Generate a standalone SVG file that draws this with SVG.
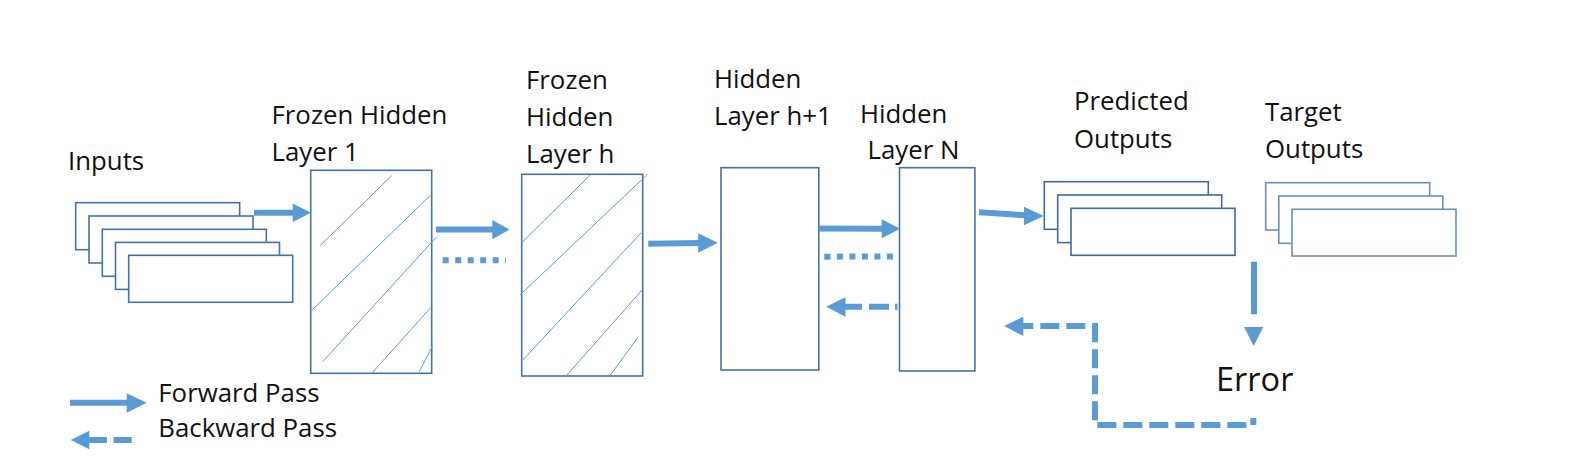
<svg xmlns="http://www.w3.org/2000/svg" width="1584" height="475" viewBox="0 0 1584 475">
<defs>
<style>
.t{font-family:"Open Sans","Liberation Sans",sans-serif;font-size:25.8px;fill:#111}
.box{fill:#fff;stroke:#4472A8;stroke-width:1.6}
.bt{fill:#fff;stroke:#6A8FBA;stroke-width:1.6}
.bp{fill:#fff;stroke:#3F6AA0;stroke-width:1.6}
.h{stroke:#5B9BD5;stroke-width:1;fill:none}
.f{stroke:#5B9BD5;stroke-width:6;fill:none}
.dot{stroke:#5B9BD5;stroke-width:6;fill:none;stroke-dasharray:6 6.5}
.dash{stroke:#5B9BD5;stroke-width:6;fill:none;stroke-dasharray:19 7}
.hd{fill:#5B9BD5}
</style>
</defs>
<rect width="1584" height="475" fill="#fff"/>

<g id="inputs">
<text class="t" x="68" y="170">Inputs</text>
<rect class="box" x="75.7" y="202.7" width="164" height="47"/>
<rect class="box" x="89" y="216" width="164" height="47"/>
<rect class="box" x="102.3" y="229.3" width="164" height="47"/>
<rect class="box" x="115.5" y="242.4" width="164" height="47"/>
<rect class="box" x="128.7" y="255.3" width="164" height="47"/>
</g>

<g id="frozen1">
<text class="t" x="271.5" y="124">Frozen Hidden</text>
<text class="t" x="271.5" y="161">Layer 1</text>
<rect class="box" x="310.7" y="170.3" width="121" height="203"/>
<line class="h" x1="320" y1="245.7" x2="391.7" y2="175.7"/>
<line class="h" x1="310.7" y1="311.3" x2="430.7" y2="195"/>
<line class="h" x1="322.7" y1="361.7" x2="436.7" y2="236.7"/>
<line class="h" x1="371.7" y1="373.3" x2="430.7" y2="307.7"/>
<line class="h" x1="419.3" y1="371.7" x2="432.7" y2="345.7"/>
</g>

<g id="frozenh">
<text class="t" x="526" y="89">Frozen</text>
<text class="t" x="526" y="126">Hidden</text>
<text class="t" x="526" y="163">Layer h</text>
<rect class="box" x="521.7" y="174.3" width="121" height="201.7"/>
<line class="h" x1="521.7" y1="242.7" x2="590.2" y2="175"/>
<line class="h" x1="519.9" y1="295" x2="647.5" y2="174.3"/>
<line class="h" x1="522.8" y1="360" x2="641.2" y2="232.7"/>
<line class="h" x1="566.1" y1="376" x2="642.7" y2="289.3"/>
<line class="h" x1="610.5" y1="375" x2="637.2" y2="338.3"/>
</g>

<g id="hiddenh1">
<text class="t" x="714" y="88">Hidden</text>
<text class="t" x="714" y="124.5">Layer h+1</text>
<rect class="box" x="721" y="167.7" width="97.8" height="202.3"/>
</g>

<g id="hiddenN">
<text class="t" x="860" y="122.5">Hidden</text>
<text class="t" x="867.5" y="159">Layer N</text>
<rect class="box" x="899.5" y="167.7" width="75.4" height="203.3"/>
</g>

<g id="predicted">
<text class="t" x="1074" y="109.5">Predicted</text>
<text class="t" x="1074" y="147.5">Outputs</text>
<rect class="bp" x="1044.3" y="181.7" width="164" height="47.6"/>
<rect class="bp" x="1057.7" y="195" width="164" height="47.6"/>
<rect class="bp" x="1071" y="208.3" width="164" height="47"/>
</g>

<g id="target">
<text class="t" x="1265" y="120.5">Target</text>
<text class="t" x="1265" y="157.5">Outputs</text>
<rect class="bt" x="1265.7" y="182.7" width="164" height="47.3"/>
<rect class="bt" x="1278.8" y="196" width="164" height="47.3"/>
<rect class="bt" x="1292" y="209.3" width="164" height="46.7"/>
</g>

<g id="error">
<text class="t" x="1216" y="390.5" style="font-size:32.5px">Error</text>
</g>

<g id="legend">
<text class="t" x="158.3" y="401.7">Forward Pass</text>
<text class="t" x="158.3" y="437.3">Backward Pass</text>
</g>

<g id="connectors">
<line class="f" x1="254" y1="212.7" x2="293" y2="212.7"/>
<polygon class="hd" points="292.7,203.5 311,212.7 292.7,221.9"/>
<line class="f" x1="436" y1="229.5" x2="493" y2="229.5"/>
<polygon class="hd" points="492.3,220 509.5,229.6 492.3,239.3"/>
<line class="dot" x1="442.7" y1="260.3" x2="506" y2="260.3"/>
<line class="f" x1="648.3" y1="243.8" x2="699" y2="242.9"/>
<polygon class="hd" points="698.2,233.3 717.8,242.7 698.2,252.7"/>
<line class="f" x1="818.8" y1="228.6" x2="882" y2="228.8"/>
<polygon class="hd" points="881.7,219.3 900.2,228.8 881.7,238.3"/>
<line class="dot" x1="824.4" y1="256.7" x2="898" y2="256.4"/>
<polygon class="hd" points="826.2,306.7 845.5,297.3 845.5,316.7"/>
<path class="dash" d="M845 306.7 H897.5" style="stroke-dasharray:17 7 20 6"/>
<line class="f" x1="979" y1="212.2" x2="1025" y2="215.3"/>
<polygon class="hd" points="1024,206.7 1044,216 1024,225.3"/>
<line class="f" x1="1254" y1="261.7" x2="1254" y2="314.3"/>
<polygon class="hd" points="1244,327 1263.3,327 1253.7,346"/>
<path class="dash" d="M1253.3 418 V425 H1095 V326 H1023" style="stroke-dasharray:19 7;stroke-dashoffset:12"/>
<polygon class="hd" points="1004,326 1023.3,316.7 1023.3,336"/>
<line class="f" x1="70" y1="402.7" x2="127.5" y2="402.7"/>
<polygon class="hd" points="126.7,393.3 146.7,402.7 126.7,412.7"/>
<polygon class="hd" points="70.7,440 89.3,430.7 89.3,449.3"/>
<path class="dash" d="M89 440 H131.7" style="stroke-dasharray:18 6.6 19"/>
</g>
</svg>
